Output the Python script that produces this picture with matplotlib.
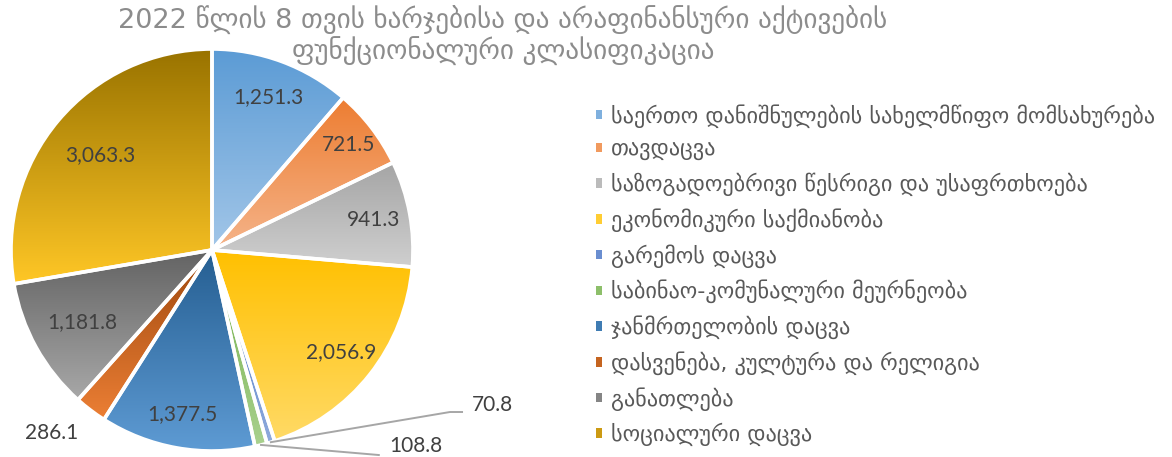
import numpy as np
import matplotlib
matplotlib.use("Agg")
import matplotlib.pyplot as plt
from matplotlib.colors import to_rgb
from matplotlib.patches import Patch

# ---------------- data ----------------
title = "2022 წლის 8 თვის ხარჯებისა და არაფინანსური აქტივების\nფუნქციონალური კლასიფიკაცია"
categories = [
    "საერთო დანიშნულების სახელმწიფო მომსახურება",
    "თავდაცვა",
    "საზოგადოებრივი წესრიგი და უსაფრთხოება",
    "ეკონომიკური საქმიანობა",
    "გარემოს დაცვა",
    "საბინაო-კომუნალური მეურნეობა",
    "ჯანმრთელობის დაცვა",
    "დასვენება, კულტურა და რელიგია",
    "განათლება",
    "სოციალური დაცვა",
]
values = [1251.3, 721.5, 941.3, 2056.9, 70.8, 108.8, 1377.5, 286.1, 1181.8, 3063.3]
value_labels = ["1,251.3", "721.5", "941.3", "2,056.9", "70.8", "108.8",
                "1,377.5", "286.1", "1,181.8", "3,063.3"]

# gradient colours (top -> bottom)
top_colors = ["#5B9BD5", "#ED7D31", "#A5A5A5", "#FFC000", "#4472C4", "#70AD47",
              "#255E91", "#9E480E", "#636363", "#997300"]
bottom_colors = ["#A2C6E8", "#F5B48A", "#CFCFCF", "#FFDA66", "#8FAADC", "#A9D18E",
                 "#5E9BD4", "#EC7F35", "#A8A8A8", "#FFC726"]
legend_colors = ["#7FB0DE", "#F19A5E", "#BBBBBB", "#FFCD33", "#6A8ED0", "#8DBF6A",
                 "#3F7CB3", "#C56420", "#858585", "#CC9A13"]

# ---------------- figure ----------------
W, H = 1172, 457
fig = plt.figure(figsize=(W / 100, H / 100), dpi=100)
cx, cy, R = 212, 250, 201
ax = fig.add_axes([(cx - R) / W, (H - cy - R) / H, 2 * R / W, 2 * R / H])

wedges, _ = ax.pie(values, startangle=90, counterclock=False, radius=1.0,
                   wedgeprops=dict(linewidth=0))

for w, c0, c1 in zip(wedges, top_colors, bottom_colors):
    ext = w.get_path().get_extents()
    n = 256
    t = np.linspace(0, 1, n)[:, None]
    a = np.array(to_rgb(c0))[None, :]
    b = np.array(to_rgb(c1))[None, :]
    grad = (a * (1 - t) + b * t)[:, None, :]
    im = ax.imshow(grad, extent=(ext.x0, ext.x1, ext.y0, ext.y1), origin="upper",
                   aspect="auto", interpolation="bilinear", zorder=1)
    im.set_clip_path(w)
    w.set_facecolor("none")
    w.set_edgecolor("white")
    w.set_linewidth(2.6)
    w.set_zorder(2)

ax.set_xlim(-1, 1)
ax.set_ylim(-1, 1)
ax.set_aspect("equal")
ax.axis("off")

# ---------------- data labels ----------------
label_font = dict(family="Lato", fontsize=15, color="#404040")
inside_r = [0.81, 0.855, 0.815, 0.82, None, None, 0.83, None, 0.74, 0.73]
for i, w in enumerate(wedges):
    mid = np.deg2rad((w.theta1 + w.theta2) / 2)
    r = inside_r[i]
    if r is not None:
        ax.text(r * np.cos(mid), r * np.sin(mid), value_labels[i], ha="center",
                va="center", zorder=3, **label_font)

line_kw = dict(color="#A6A6A6", lw=1.4)
# 286.1 (outside, no leader)
w = wedges[7]
mid = np.deg2rad((w.theta1 + w.theta2) / 2)
ax.text(1.22 * np.cos(mid) - 0.06, 1.22 * np.sin(mid) + 0.06, value_labels[7],
        ha="center", va="center", **label_font)
# 70.8 with leader line
w = wedges[4]
mid = np.deg2rad((w.theta1 + w.theta2) / 2)
x0, y0 = np.cos(mid), np.sin(mid)
ax.plot([x0, 1.184, 1.244], [y0, -0.806, -0.806], clip_on=False, **line_kw)
ax.text(1.393, -0.771, value_labels[4], ha="center", va="center", **label_font)
# 108.8 with leader line
w = wedges[5]
mid = np.deg2rad((w.theta1 + w.theta2) / 2)
x0, y0 = np.cos(mid), np.sin(mid)
ax.plot([x0, 0.83], [y0, -1.02], clip_on=False, **line_kw)
ax.text(1.015, -0.975, value_labels[5], ha="center", va="center", **label_font)

# ---------------- title ----------------
fig.text(503 / W, 1 - 36 / H, title, ha="center", va="center", fontsize=19.5,
         color="#8C8C8C", family="DejaVu Sans", linespacing=1.05)

# ---------------- legend ----------------
handles = [Patch(facecolor=c, edgecolor="none") for c in legend_colors]
leg = fig.legend(handles, categories, loc="center left",
                 bbox_to_anchor=(576 / W, 1 - 275 / H), frameon=False,
                 prop=dict(family="DejaVu Sans", size=16),
                 handlelength=0.28, handleheight=0.28, handletextpad=0.4,
                 labelspacing=0.54)
for t in leg.get_texts():
    t.set_color("#595959")

fig.savefig("out.png", dpi=100)
